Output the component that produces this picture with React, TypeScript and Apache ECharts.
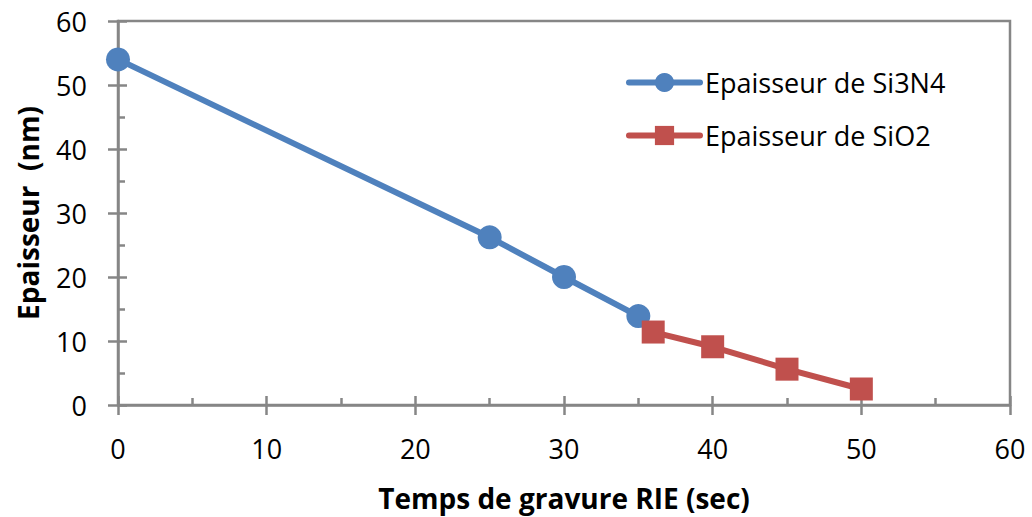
import React, { useEffect, useRef } from "react";
import * as echarts from "echarts";

const si3n4Times = [0, 25, 30, 35];
const si3n4Values = [54, 26.2, 20, 13.9];
const sio2Times = [36, 40, 45, 50];
const sio2Values = [11.4, 9.1, 5.6, 2.5];
const seriesNames = ["Epaisseur de Si3N4", "Epaisseur de SiO2"];
const xTitle = "Temps de gravure RIE (sec)";
const yTitle = "Epaisseur  (nm)";

const FONT = "'Open Sans', 'Noto Sans', sans-serif";
const AXIS = "#868686";

export default function App() {
  const ref = useRef<HTMLDivElement>(null);
  useEffect(() => {
    if (!ref.current) return;
    const chart = echarts.init(ref.current, undefined, { renderer: "svg" });
    const xBase = { type: "value", min: 0, max: 60, interval: 10, splitLine: { show: false } };
    const yBase = { type: "value", min: 0, max: 60, interval: 10, splitLine: { show: false } };
    chart.setOption({
      animation: false,
      backgroundColor: "#ffffff",
      textStyle: { fontFamily: FONT },
      grid: { left: 118, top: 21, right: 22, bottom: 110, show: true, borderColor: AXIS, borderWidth: 2.5 },
      legend: {
        left: 626,
        top: 69,
        padding: 0,
        orient: "vertical",
        itemWidth: 71,
        itemHeight: 24,
        itemGap: 26,
        lineStyle: { width: 6, cap: "round" },
        textStyle: { fontSize: 27, color: "#000", fontFamily: FONT },
        data: seriesNames,
      },
      xAxis: [
        {
          ...xBase,
          position: "bottom",
          axisLine: { show: true, lineStyle: { color: AXIS, width: 2.5 } },
          axisTick: { show: true, inside: false, length: 10, lineStyle: { color: AXIS, width: 2.5 } },
          axisLabel: { fontSize: 27, color: "#000", margin: 30, fontFamily: FONT },
          name: xTitle,
          nameLocation: "middle",
          nameGap: 79,
          nameTextStyle: { fontSize: 28, fontWeight: "bold", color: "#000", fontFamily: FONT },
        },
        {
          ...xBase,
          position: "bottom",
          axisLine: { show: false },
          axisLabel: { show: false },
          axisTick: { show: true, inside: true, length: 9, lineStyle: { color: AXIS, width: 2.5 } },
          minorTick: { show: true, splitNumber: 2, length: 7, lineStyle: { color: AXIS, width: 2.5 } },
        },
      ],
      yAxis: [
        {
          ...yBase,
          position: "left",
          axisLine: { show: true, lineStyle: { color: AXIS, width: 2.5 } },
          axisTick: { show: true, inside: false, length: 10, lineStyle: { color: AXIS, width: 2.5 } },
          axisLabel: { fontSize: 27, color: "#000", margin: 31, fontFamily: FONT },
          name: yTitle,
          nameLocation: "middle",
          nameGap: 76,
          nameRotate: 90,
          nameTextStyle: { fontSize: 28, fontWeight: "bold", color: "#000", fontFamily: FONT },
        },
        {
          ...yBase,
          position: "left",
          axisLine: { show: false },
          axisLabel: { show: false },
          axisTick: { show: true, inside: true, length: 9, lineStyle: { color: AXIS, width: 2.5 } },
          minorTick: { show: true, splitNumber: 2, length: 7, lineStyle: { color: AXIS, width: 2.5 } },
        },
      ],
      series: [
        {
          name: seriesNames[0],
          type: "line",
          xAxisIndex: 0,
          yAxisIndex: 0,
          data: si3n4Times.map((t, i) => [t, si3n4Values[i]]),
          symbol: "circle",
          symbolSize: 24,
          lineStyle: { color: "#4F81BD", width: 6 },
          itemStyle: { color: "#4F81BD" },
        },
        {
          name: seriesNames[1],
          type: "line",
          xAxisIndex: 0,
          yAxisIndex: 0,
          data: sio2Times.map((t, i) => [t, sio2Values[i]]),
          symbol: "rect",
          symbolSize: 23,
          lineStyle: { color: "#C0504D", width: 6 },
          itemStyle: { color: "#C0504D" },
        },
      ],
    });
    return () => chart.dispose();
  }, []);
  return <div ref={ref} style={{ width: 1032, height: 517, position: "absolute", left: 0, top: 0 }} />;
}
